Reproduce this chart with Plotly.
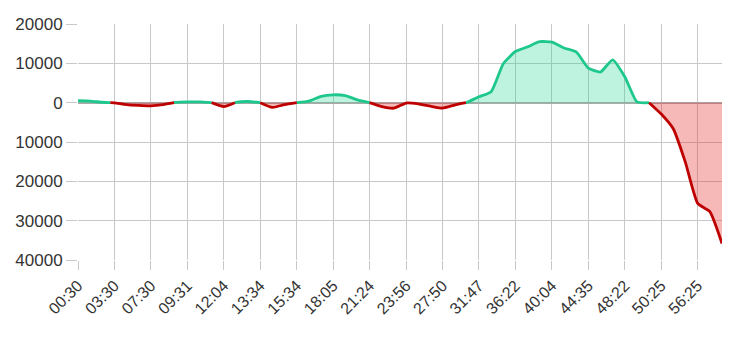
import plotly.graph_objects as go

# Values per sample (54 samples, every 3rd one labelled)
values = [500, 400, 100, -50, -500, -700, -800, -500, 50, 200,
          200, 0, -1000, 100, 300, 0, -1200, -500, 0, 400,
          1600, 2000, 1800, 700, 0, -1000, -1400, -100, -300, -900,
          -1400, -600, 50, 1500, 2800, 9900, 13000, 14200, 15500, 15400,
          13900, 12900, 8800, 7800, 10900, 6600, 200, 0, -2900, -6700,
          -15300, -25600, -27700, -35800]
tick_labels = ["00:30", "03:30", "07:30", "09:31", "12:04", "13:34", "15:34", "18:05",
               "21:24", "23:56", "27:50", "31:47", "36:22", "40:04", "44:35", "48:22",
               "50:25", "56:25"]
y_ticks = [20000, 10000, 0, -10000, -20000, -30000, -40000]

xs = list(range(len(values)))
tick_pos = xs[::3][:len(tick_labels)]

# split into positive / negative runs with zero crossings
px, py, nx, ny = [], [], [], []
for i, y in enumerate(values):
    if i > 0:
        y0 = values[i - 1]
        p0, p1 = y0 >= 0, y >= 0
        if p0 != p1:
            xc = (i - 1) + y0 / (y0 - y)
            if p0:
                px += [xc, None]; py += [0, None]
                nx.append(xc); ny.append(0)
            else:
                nx += [xc, None]; ny += [0, None]
                px.append(xc); py.append(0)
    if y >= 0:
        px.append(i); py.append(y)
    else:
        nx.append(i); ny.append(y)

fig = go.Figure()
fig.add_trace(go.Scatter(x=px, y=py, mode="lines", fill="tozeroy",
                         line=dict(color="rgb(30,200,140)", width=2.8, shape="spline", smoothing=0.5),
                         fillcolor="rgba(40,215,150,0.3)", connectgaps=False, hoverinfo="skip"))
fig.add_trace(go.Scatter(x=nx, y=ny, mode="lines", fill="tozeroy",
                         line=dict(color="rgb(190,0,0)", width=2.8, shape="spline", smoothing=0.5),
                         fillcolor="rgba(230,40,40,0.33)", connectgaps=False, hoverinfo="skip"))

fig.update_layout(
    width=730, height=338,
    margin=dict(l=78, r=8, t=24, b=78),
    paper_bgcolor="white", plot_bgcolor="white",
    showlegend=False,
    font=dict(family="Liberation Sans, Arial, sans-serif", size=15, color="#333"),
)
fig.update_xaxes(range=[0, len(values) - 1], tickmode="array", tickvals=tick_pos, ticktext=tick_labels,
                 tickangle=-45, showgrid=True, gridcolor="#c8c8c8", gridwidth=1,
                 ticks="outside", ticklen=9, tickcolor="#c8c8c8", zeroline=False,
                 showline=False, tickfont=dict(size=16, color="#333"))
fig.update_yaxes(range=[-40000, 20000], tickmode="array", tickvals=y_ticks,
                 ticktext=[str(abs(v)) for v in y_ticks],
                 showgrid=True, gridcolor="#c8c8c8", gridwidth=1,
                 ticks="outside", ticklen=11, tickcolor="#c8c8c8",
                 zeroline=True, zerolinecolor="#aaaaaa", zerolinewidth=2,
                 showline=False, tickfont=dict(size=17, color="#333"))

fig.write_html("out.html")
